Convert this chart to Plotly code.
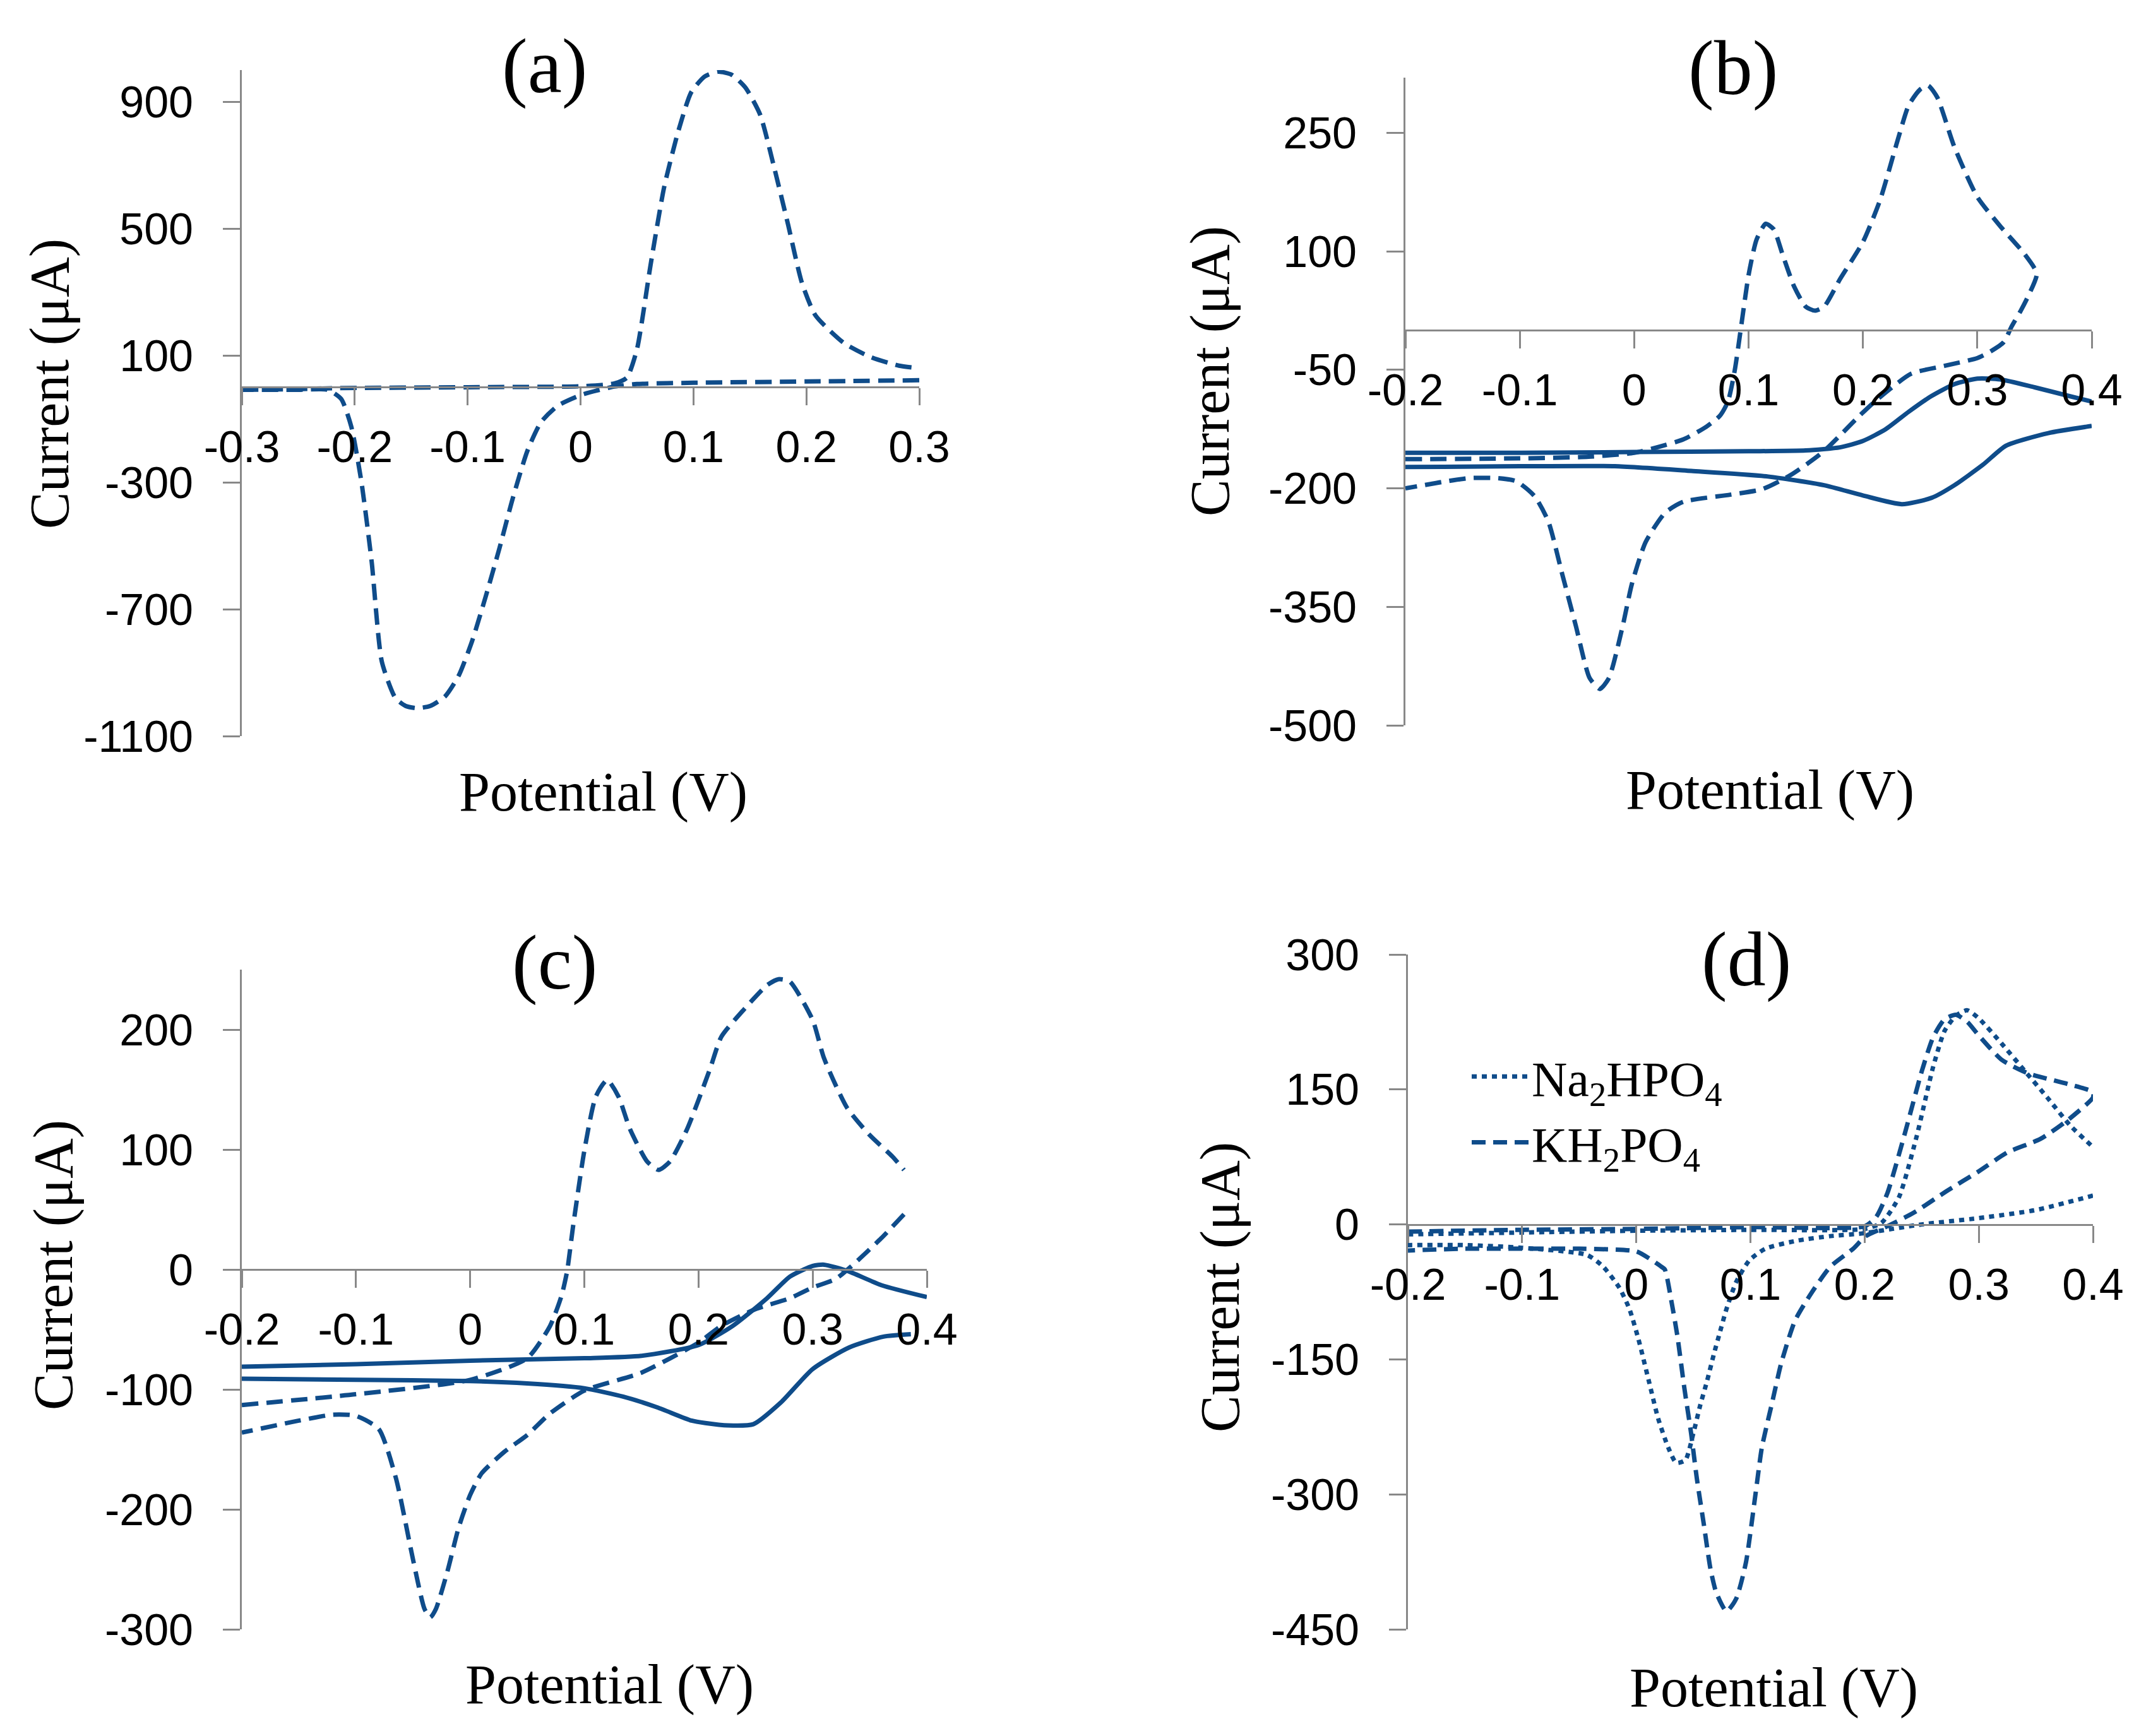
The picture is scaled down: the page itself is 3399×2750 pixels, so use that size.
import plotly.graph_objects as go

# ---- data (potential in V, current in uA) ----

# (a) dashed only
a_fwd_v = [-0.3, -0.25, -0.22, -0.1, 0.0, 0.03, 0.041, 0.05, 0.062, 0.074, 0.086, 0.098, 0.11, 0.122,
           0.134, 0.146, 0.159, 0.171, 0.184, 0.196, 0.208, 0.233, 0.257, 0.282, 0.3]
a_fwd_i = [-8, -6, -3, 0, 3, 12, 30, 120, 385, 630, 800, 930, 980, 995,
           985, 945, 860, 700, 510, 330, 227, 140, 95, 68, 60]
a_rev_v = [0.3, 0.2, 0.1, 0.05, 0.03, 0.015, 0.0, -0.02, -0.035, -0.047, -0.06, -0.072, -0.084, -0.096,
           -0.108, -0.12, -0.133, -0.145, -0.155, -0.164, -0.176, -0.185, -0.194, -0.203, -0.212, -0.224,
           -0.25, -0.3]
a_rev_i = [22, 18, 14, 10, 2, -10, -25, -58, -110, -200, -350, -510, -660, -800,
           -910, -975, -1005, -1012, -1005, -980, -865, -550, -300, -125, -37, -8,
           -8, -8]

# (b)
b_dash_v = [-0.2, -0.1, -0.04, 0.0, 0.02, 0.043, 0.063, 0.075, 0.082, 0.088, 0.094, 0.1, 0.107, 0.115,
            0.122, 0.13, 0.14, 0.15, 0.158, 0.166, 0.18, 0.2, 0.215, 0.23, 0.24, 0.25, 0.257, 0.265,
            0.28, 0.3, 0.32, 0.34, 0.352,
            0.345, 0.338, 0.33, 0.323, 0.31, 0.3, 0.271, 0.242, 0.212, 0.197, 0.165, 0.137, 0.112,
            0.084, 0.043, 0.027, 0.01, -0.002, -0.01, -0.022, -0.03, -0.039, -0.051, -0.063, -0.075,
            -0.087, -0.103, -0.12, -0.144, -0.168, -0.2]
b_dash_i = [-163, -162, -160, -155, -148, -138, -122, -108, -90, -50, 10, 70, 115, 135,
            128, 95, 55, 30, 25, 30, 65, 112, 165, 239, 285, 305, 310, 295,
            232, 169, 132, 99, 72,
            45, 25, 5, -15, -28, -35, -45, -55, -88, -108, -154, -183, -201,
            -208, -217, -231, -268, -321, -374, -440, -454, -440, -374, -308, -242,
            -210, -191, -187, -187, -192, -200]
b_sol_fwd_v = [-0.2, -0.1, 0.0, 0.1, 0.15, 0.18, 0.2, 0.22, 0.24, 0.26, 0.28, 0.3, 0.32, 0.35, 0.38, 0.4]
b_sol_fwd_i = [-155, -155, -154, -153, -152, -148, -140, -125, -103, -83, -68, -61, -62, -72, -83, -90]
b_sol_rev_v = [0.4, 0.362, 0.325, 0.305, 0.28, 0.26, 0.234, 0.2, 0.166, 0.117, 0.05, -0.017, -0.1, -0.2]
b_sol_rev_i = [-121, -130, -146, -170, -196, -212, -220, -209, -196, -185, -178, -172, -172, -173]

# (c)
c_dash_fwd_v = [-0.2, -0.1, 0.0, 0.05, 0.07, 0.08, 0.085, 0.09, 0.1, 0.11, 0.12, 0.13, 0.14, 0.155,
                0.165, 0.175, 0.19, 0.21, 0.22, 0.24, 0.26, 0.27, 0.28, 0.3, 0.31, 0.33, 0.35, 0.37, 0.38]
c_dash_fwd_i = [-113, -104, -92, -74, -47, -22, -1, 35, 99, 144, 158, 144, 117, 90,
                83, 90, 117, 167, 194, 217, 237, 242, 240, 208, 176, 135, 112, 94, 83]
c_dash_rev_v = [0.38, 0.36, 0.34, 0.32, 0.3, 0.28, 0.25, 0.22, 0.2, 0.15, 0.1, 0.07, 0.05, 0.03,
                0.01, 0.0, -0.01, -0.02, -0.03, -0.035, -0.04, -0.05, -0.065, -0.08, -0.1, -0.12,
                -0.15, -0.2]
c_dash_rev_i = [46, 26, 8, -8, -15, -24, -33, -47, -61, -86, -101, -120, -138, -152,
                -170, -188, -215, -252, -283, -290, -283, -242, -174, -133, -122, -121,
                -126, -136]
c_sol_fwd_v = [-0.2, -0.1, 0.0, 0.1, 0.15, 0.2, 0.23, 0.26, 0.28, 0.3, 0.31, 0.33, 0.36, 0.4]
c_sol_fwd_i = [-81, -79, -76, -74, -72, -63, -47, -24, -6, 3, 4, -1, -13, -23]
c_sol_rev_v = [0.386, 0.362, 0.332, 0.3, 0.272, 0.248, 0.226, 0.206, 0.194, 0.164, 0.134, 0.1,
               0.05, 0.0, -0.1, -0.2]
c_sol_rev_i = [-54, -56, -65, -83, -111, -129, -130, -128, -126, -115, -106, -99,
               -95, -93, -92, -91]

# (d) Na2HPO4 (dotted) and KH2PO4 (dashed)
d_na_fwd_v = [-0.2, -0.1, 0.0, 0.1, 0.2, 0.215, 0.23, 0.245, 0.26, 0.27, 0.28, 0.29, 0.3, 0.32,
              0.34, 0.36, 0.38, 0.4]
d_na_fwd_i = [-11, -9, -7, -6, -5, 2, 30, 95, 175, 215, 232, 238, 229, 201,
              171, 141, 110, 86]
d_na_rev_v = [0.4, 0.35, 0.3, 0.25, 0.198, 0.17, 0.141, 0.113, 0.099, 0.0875, 0.079, 0.073, 0.068,
              0.062, 0.056, 0.05, 0.043, 0.035, 0.028, 0.019, 0.011, 0.002, -0.006, -0.015, -0.029,
              -0.043, -0.1, -0.15, -0.2]
d_na_rev_i = [32, 16, 7, 0, -10, -13, -18, -27, -40, -64, -94, -121, -144,
              -174, -201, -232, -262, -265, -248, -215, -174, -128, -94, -70, -47,
              -34, -26, -23, -23]
d_k_v = [-0.2, -0.1, 0.0, 0.1, 0.2, 0.21, 0.22, 0.235, 0.25, 0.26, 0.27, 0.28, 0.29, 0.3, 0.32,
         0.343, 0.378, 0.4,
         0.4, 0.378, 0.354, 0.325, 0.3, 0.273, 0.243, 0.22, 0.201, 0.19, 0.17, 0.153, 0.139, 0.127,
         0.119, 0.11, 0.1045, 0.096, 0.0875, 0.079, 0.07, 0.065, 0.059, 0.053, 0.048, 0.042, 0.036,
         0.031, 0.025, 0.022, 0.014, 0.0, -0.05, -0.1, -0.15, -0.2]
d_k_i = [-8, -6, -5, -3, -2, 8, 35, 100, 170, 208, 228, 233, 225, 210, 183,
         168, 156, 147,
         141, 116, 95, 80, 59, 38, 13, -2, -13, -27, -47, -77, -107, -154,
         -198, -248, -299, -376, -416, -430, -409, -383, -332, -282, -232, -181, -124,
         -87, -50, -47, -40, -30, -27, -27, -27, -29]

# axis ticks
a_yticks = [-1100, -700, -300, 100, 500, 900]
b_yticks = [-500, -350, -200, -50, 100, 250]
c_yticks = [-300, -200, -100, 0, 100, 200]
d_yticks = [-450, -300, -150, 0, 150, 300]
a_xticks = [-0.3, -0.2, -0.1, 0, 0.1, 0.2, 0.3]
a_xlabels = ['-0.3', '-0.2', '-0.1', '0', '0.1', '0.2', '0.3']
bcd_xticks = [-0.2, -0.1, 0, 0.1, 0.2, 0.3, 0.4]
bcd_xlabels = ['-0.2', '-0.1', '0', '0.1', '0.2', '0.3', '0.4']

W, H = 3399, 2750
LINE = '#0F4C8A'
AXIS = '#888888'
SERIF = 'Liberation Serif, Times New Roman, serif'
SANS = 'Liberation Sans, Arial, sans-serif'

DASH = '26px,13px'
DOT = '8px,8px'

# panel layout in pixels: (x0, x1, ytop, ybottom)
boxes = {
    '': (375, 1448, 103, 1158),
    '2': (2218, 3305, 115, 1141),
    '3': (375, 1460, 1528, 2573),
    '4': (2222, 3307, 1504, 2573),
}
yranges = {'': [-1100, 1000], '2': [-500, 320], '3': [-300, 250], '4': [-450, 300]}
xranges = {'': [-0.3, 0.3], '2': [-0.2, 0.4], '3': [-0.2, 0.4], '4': [-0.2, 0.4]}
yticks = {'': a_yticks, '2': b_yticks, '3': c_yticks, '4': d_yticks}

fig = go.Figure()


def add(v, i, ax, dash, name=None, legend=False):
    fig.add_trace(go.Scatter(
        x=v, y=i, mode='lines', name=name, showlegend=legend,
        line=dict(color=LINE, width=7, dash=dash, shape='spline', smoothing=0.6),
        xaxis='x' + ax, yaxis='y' + ax, hoverinfo='skip'))


add(a_fwd_v, a_fwd_i, '', DASH)
add(a_rev_v, a_rev_i, '', DASH)

add(b_dash_v, b_dash_i, '2', DASH)
add(b_sol_fwd_v, b_sol_fwd_i, '2', 'solid')
add(b_sol_rev_v, b_sol_rev_i, '2', 'solid')

add(c_dash_fwd_v, c_dash_fwd_i, '3', DASH)
add(c_dash_rev_v, c_dash_rev_i, '3', DASH)
add(c_sol_fwd_v, c_sol_fwd_i, '3', 'solid')
add(c_sol_rev_v, c_sol_rev_i, '3', 'solid')

add(d_na_fwd_v, d_na_fwd_i, '4', DOT, 'Na<sub>2</sub>HPO<sub>4</sub>', True)
add(d_na_rev_v, d_na_rev_i, '4', DOT)
add(d_k_v, d_k_i, '4', '22px,12px', 'KH<sub>2</sub>PO<sub>4</sub>', True)

# axes: y axis at the left edge, x axis crossing at zero current (Excel style)
for ax, (x0, x1, yt, yb) in boxes.items():
    xd = [x0 / W, x1 / W]
    yd = [1 - yb / H, 1 - yt / H]
    yr = yranges[ax]
    zero = yd[0] + (0 - yr[0]) / (yr[1] - yr[0]) * (yd[1] - yd[0])
    xt, xl = (a_xticks, a_xlabels) if ax == '' else (bcd_xticks, bcd_xlabels)
    common = dict(showgrid=False, zeroline=False, showline=True, linecolor=AXIS, linewidth=3,
                  ticks='outside', ticklen=27, tickwidth=3, tickcolor=AXIS, automargin=False,
                  tickfont=dict(family=SANS, size=70, color='black'), fixedrange=True)
    fig.layout['xaxis' + ax] = dict(domain=xd, range=xranges[ax], anchor='free', position=zero,
                                    tickvals=xt, ticktext=xl, ticklabelstandoff=6, **common)
    fig.layout['yaxis' + ax] = dict(domain=yd, range=yr, anchor='x' + ax,
                                    tickvals=yticks[ax], ticktext=[str(t) for t in yticks[ax]],
                                    ticklabelstandoff=33, **common)

# panel letters and axis titles (pixel centres)
letters = [('(a)', 854, 97), ('(b)', 2737, 100), ('(c)', 870, 1517), ('(d)', 2758, 1512)]
xtitles = [(947, 1246), (2795, 1244), (958, 2660), (2801, 2665)]
ytitles = [(71, 600), (1908, 580), (76, 1996), (1924, 2031)]

ann = []
for t, x, y in letters:
    ann.append(dict(text=t, x=x / W, y=1 - y / H, xref='paper', yref='paper', showarrow=False,
                    xanchor='center', yanchor='middle',
                    font=dict(family=SERIF, size=122, color='black')))
for x, y in xtitles:
    ann.append(dict(text='Potential (V)', x=x / W, y=1 - y / H, xref='paper', yref='paper',
                    showarrow=False, xanchor='center', yanchor='middle',
                    font=dict(family=SERIF, size=88, color='black')))
for x, y in ytitles:
    ann.append(dict(text='Current (μA)', x=x / W, y=1 - y / H, xref='paper', yref='paper',
                    showarrow=False, textangle=-90, xanchor='center', yanchor='middle',
                    font=dict(family=SERIF, size=88, color='black')))

fig.update_layout(
    width=W, height=H, margin=dict(l=0, r=0, t=0, b=0, autoexpand=False),
    paper_bgcolor='white', plot_bgcolor='white',
    annotations=ann,
    legend=dict(x=2318 / W, y=1 - 1640 / H, xanchor='left', yanchor='top',
                font=dict(family=SERIF, size=78, color='black'), bgcolor='rgba(0,0,0,0)',
                itemwidth=90, tracegroupgap=0),
)

fig.write_html("out.html")
